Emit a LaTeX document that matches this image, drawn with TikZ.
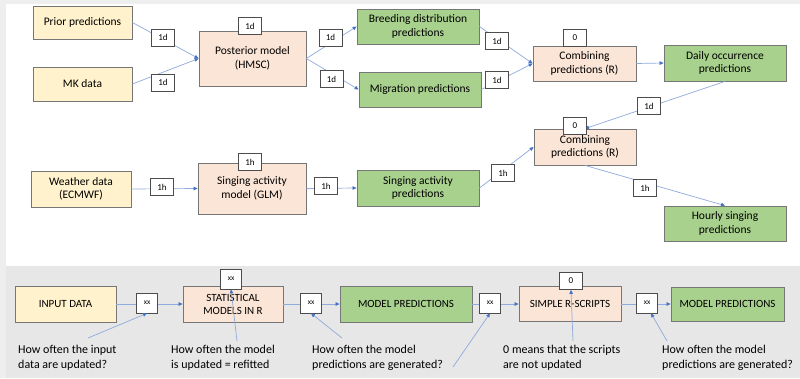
\documentclass[tikz,border=0pt]{standalone}
\usepackage{fontspec}
\setmainfont{Carlito}
\usepackage{tikz}
\usetikzlibrary{arrows.meta}
\definecolor{inputfill}{RGB}{255,242,204}
\definecolor{modelfill}{RGB}{251,229,214}
\definecolor{predfill}{RGB}{169,209,142}
\definecolor{boxedge}{RGB}{118,118,118}
\definecolor{linkblue}{RGB}{143,170,220}
\definecolor{tipblue}{RGB}{68,114,196}
\definecolor{panelgray}{RGB}{231,231,231}
\definecolor{stripgray}{RGB}{238,238,238}
\tikzset{
  stage/.style={draw=boxedge, line width=0.8pt, align=center, inner sep=1pt,
    font=\fontsize{11.5}{13.5}\selectfont},
  inbox/.style={stage, fill=inputfill},
  modbox/.style={stage, fill=modelfill},
  predbox/.style={stage, fill=predfill},
  capsbox/.style={font=\fontsize{11}{13}\selectfont},
  freq/.style={draw=black!70, fill=white, line width=0.6pt, minimum width=23pt,
    minimum height=17pt, inner sep=1pt, font=\fontsize{9}{10}\selectfont},
  link/.style={draw=linkblue, line width=0.7pt,
    -{Triangle[length=4pt,width=3.5pt,color=tipblue]}},
  note/.style={align=left, anchor=north west, inner sep=0pt,
    font=\fontsize{12}{14.5}\selectfont}
}
\newcommand{\freqlabel}[3]{\node[freq] (#1) at (#2) {#3};}
\newcommand{\xxlabel}[2]{\node[freq, minimum width=21pt, minimum height=20pt,
  font=\fontsize{7.5}{9}\selectfont] (#1) at (#2) {xx};}

\begin{document}
\begin{tikzpicture}[x=1pt,y=-1pt]
\useasboundingbox (0,0) rectangle (800,378);
\fill[stripgray] (0,0) rectangle (800,378);
\fill[panelgray] (6,266) rectangle (800,378);
\fill[white] (6,4) rectangle (800,266);

\node[inbox, minimum width=99pt, minimum height=33pt] (prior) at (82.5,22.5) {Prior predictions};
\node[inbox, minimum width=99pt, minimum height=34pt] (mk) at (82.5,84) {MK data};
\node[modbox, minimum width=107pt, minimum height=55pt] (posterior) at (252.5,58.5) {Posterior model\\(HMSC)};
\node[predbox, minimum width=122pt, minimum height=35pt] (breeding) at (418,26.5) {Breeding distribution\\predictions};
\node[predbox, minimum width=122pt, minimum height=35pt] (migration) at (420,89.5) {Migration predictions};
\node[modbox, minimum width=103pt, minimum height=35pt] (combday) at (584.5,63.5) {Combining\\predictions (R)};
\node[predbox, minimum width=122pt, minimum height=36pt] (daily) at (725,63) {Daily occurrence\\predictions};
\node[inbox, minimum width=100pt, minimum height=36pt] (weather) at (81,189) {Weather data\\(ECMWF)};
\node[modbox, minimum width=108pt, minimum height=51pt] (singmodel) at (252,188.5) {Singing activity\\model (GLM)};
\node[predbox, minimum width=122pt, minimum height=36pt] (singpred) at (418,188) {Singing activity\\predictions};
\node[modbox, minimum width=102pt, minimum height=36pt] (combhour) at (585,147) {Combining\\predictions (R)};
\node[predbox, minimum width=122pt, minimum height=35pt] (hourly) at (725,223.5) {Hourly singing\\predictions};

\node[inbox, capsbox, minimum width=101pt, minimum height=36pt] (input) at (65.5,304) {INPUT DATA};
\node[modbox, capsbox, minimum width=100pt, minimum height=36pt] (stat) at (233,304) {STATISTICAL\\MODELS IN R};
\node[predbox, capsbox, minimum width=132pt, minimum height=36pt] (predone) at (406,304) {MODEL PREDICTIONS};
\node[modbox, capsbox, minimum width=102pt, minimum height=35pt] (scripts) at (570,304) {SIMPLE R-SCRIPTS};
\node[predbox, capsbox, minimum width=113pt, minimum height=34pt] (predtwo) at (727.5,304) {MODEL PREDICTIONS};

\draw[link] (prior.east) -- (posterior.west);
\draw[link] (mk.east) -- (posterior.west);
\draw[link] (posterior.east) -- (breeding.west);
\draw[link] (posterior.east) -- (migration.west);
\draw[link] (breeding.east) -- (combday.west);
\draw[link] (migration.east) -- (combday.west);
\draw[link] (combday.east) -- (daily.west);
\draw[link] (daily.south) -- (combhour.north);
\draw[link] (weather.east) -- (singmodel.west);
\draw[link] (singmodel.east) -- (singpred.west);
\draw[link] (singpred.east) -- (combhour.west);
\draw[link] (combhour.south) -- (hourly.north);
\draw[link] (input.east) -- (stat.west);
\draw[link] (stat.east) -- (predone.west);
\draw[link] (predone.east) -- (scripts.west);
\draw[link] (scripts.east) -- (predtwo.west);

\freqlabel{dprior}{163,37.5}{1d}
\freqlabel{dmk}{163,82.5}{1d}
\freqlabel{dpost}{250,26}{1d}
\freqlabel{dbreed}{330.5,37.5}{1d}
\freqlabel{dmigr}{331.5,79}{1d}
\freqlabel{dbreedout}{497,41}{1d}
\freqlabel{dmigrout}{497,80}{1d}
\freqlabel{zday}{575,38}{0}
\freqlabel{ddaily}{649,106}{1d}
\freqlabel{zhour}{575,126}{0}
\freqlabel{hweather}{162,187}{1h}
\freqlabel{hmodel}{250,162}{1h}
\freqlabel{hsing}{326,186}{1h}
\freqlabel{hpred}{503,173}{1h}
\freqlabel{hhour}{645,188}{1h}

\xxlabel{xa}{147,303}
\xxlabel{xb}{231,279}
\xxlabel{xc}{311,303}
\xxlabel{xd}{490,303}
\freqlabel{zscripts}{571,281}{0}
\xxlabel{xf}{647,303}

\node[note] (noteinput) at (18,345) {How often the input\\data are updated?};
\node[note] (notemodel) at (171,345) {How often the model\\is updated = refitted};
\node[note] (notepred) at (312,345) {How often the model\\predictions are generated?};
\node[note] (notescripts) at (503,345) {0 means that the scripts\\are not updated};
\node[note] (notepredtwo) at (662,345) {How often the model\\predictions are generated?};

\coordinate (ca) at (88,338);
\coordinate (cb) at (237,341);
\coordinate (cc) at (342,338);
\coordinate (cd) at (453,367);
\coordinate (ce) at (573,341);
\coordinate (cf) at (667,341);
\draw[link] (ca) -- (xa.south);
\draw[link] (cb) -- (xb.south);
\draw[link] (cc) -- (xc.south);
\draw[link] (cd) -- (xd.south);
\draw[link] (ce) -- (zscripts.south);
\draw[link] (cf) -- ([xshift=4pt]xf.south);
\end{tikzpicture}
\end{document}
